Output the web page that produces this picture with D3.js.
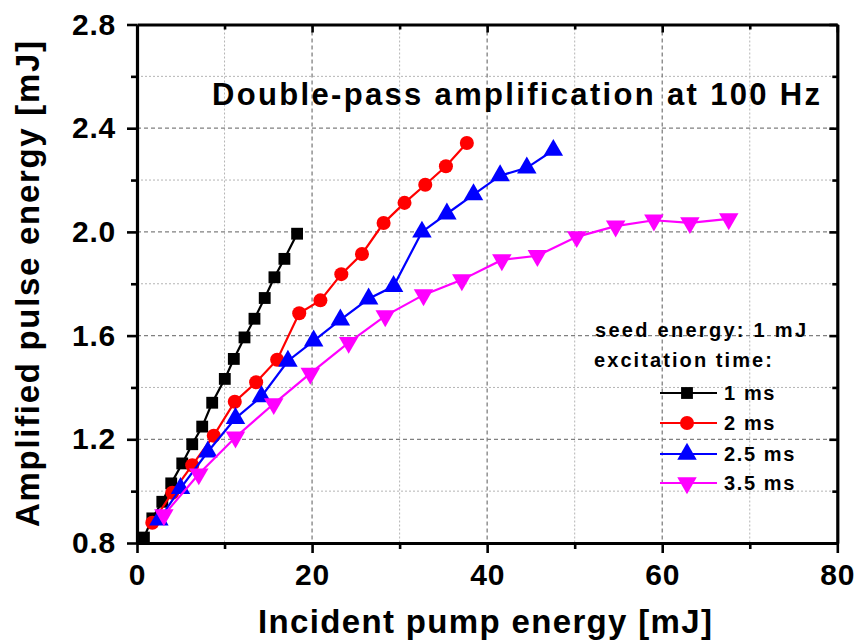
<!DOCTYPE html>
<html>
<head>
<meta charset="utf-8">
<script src="https://cdn.jsdelivr.net/npm/d3@7"></script>
<style>
  html, body { margin: 0; padding: 0; background: #fff; }
  svg { display: block; font-family: "Liberation Sans", Arial, sans-serif; font-weight: bold; }
</style>
</head>
<body>
<svg id="chart" width="857" height="641"></svg>
<script>
// ---- data ----
const x1ms = [0.79, 1.75, 2.89, 3.91, 5.17, 6.31, 7.45, 8.59, 10.03, 11.06, 12.28, 13.42, 14.59, 15.7, 16.84, 18.29];
const y1ms = [0.821, 0.895, 0.959, 1.03, 1.107, 1.181, 1.249, 1.341, 1.433, 1.51, 1.593, 1.665, 1.745, 1.825, 1.896, 1.993];

const x2ms = [1.75, 4.03, 6.31, 8.77, 11.17, 13.61, 16.01, 18.53, 20.95, 23.34, 25.7, 28.17, 30.56, 32.93, 35.29, 37.68];
const y2ms = [0.878, 0.994, 1.10, 1.214, 1.345, 1.42, 1.507, 1.686, 1.736, 1.837, 1.915, 2.034, 2.112, 2.182, 2.253, 2.343];

const x25ms = [2.5, 4.97, 8.09, 11.25, 14.22, 17.24, 20.18, 23.23, 26.46, 29.31, 32.55, 35.4, 38.44, 41.48, 44.53, 47.56];
const y25ms = [0.889, 1.011, 1.152, 1.281, 1.365, 1.502, 1.58, 1.661, 1.742, 1.79, 2.0, 2.07, 2.144, 2.217, 2.247, 2.315];

const x35ms = [3.07, 7.06, 11.25, 15.62, 19.8, 24.18, 28.36, 32.73, 37.11, 41.68, 45.74, 50.23, 54.68, 59.05, 63.16, 67.6];
const y35ms = [0.908, 1.066, 1.208, 1.337, 1.454, 1.573, 1.676, 1.757, 1.815, 1.892, 1.908, 1.981, 2.022, 2.045, 2.035, 2.05];

const seriesNames = ["1 ms", "2 ms", "2.5 ms", "3.5 ms"];
const xMajorTicks = [0, 20, 40, 60, 80];
const xMinorTicks = [10, 30, 50, 70];
const yMajorTicks = [0.8, 1.2, 1.6, 2.0, 2.4, 2.8];
const yMinorTicks = [1.0, 1.4, 1.8, 2.2, 2.6];
const xTitle = "Incident pump energy [mJ]";
const yTitle = "Amplified pulse energy [mJ]";
const chartTitle = "Double-pass amplification at 100 Hz";
const legendLine1 = "seed energy: 1 mJ";
const legendLine2 = "excitation time:";

// ---- build ----
const svg = d3.select("#chart");
const L = 137, R = 837.3, T = 24.5, B = 543;
const x = d3.scaleLinear().domain([0, 80]).range([L, R]);
const y = d3.scaleLinear().domain([0.8, 2.8]).range([B, T]);

const colors = ["#000000", "#ff0000", "#0000ff", "#ff00ff"];
const symbols = [
  {type: d3.symbolSquare, size: 140, rot: 0},
  {type: d3.symbolCircle, size: 155, rot: 0},
  {type: d3.symbolTriangle, size: 165, rot: 0},
  {type: d3.symbolTriangle, size: 165, rot: 180}
];
const data = [
  x1ms.map((v, i) => [v, y1ms[i]]),
  x2ms.map((v, i) => [v, y2ms[i]]),
  x25ms.map((v, i) => [v, y25ms[i]]),
  x35ms.map((v, i) => [v, y35ms[i]])
];

// grid
const grid = svg.append("g");
xMinorTicks.forEach(v => grid.append("line").attr("x1", x(v)).attr("x2", x(v)).attr("y1", T).attr("y2", B)
  .attr("stroke", "#b4b4b4").attr("stroke-width", 1).attr("stroke-dasharray", "2,2"));
yMinorTicks.forEach(v => grid.append("line").attr("x1", L).attr("x2", R).attr("y1", y(v)).attr("y2", y(v))
  .attr("stroke", "#b4b4b4").attr("stroke-width", 1).attr("stroke-dasharray", "2,2"));
xMajorTicks.filter(v => v > 0 && v < 80).forEach(v => grid.append("line").attr("x1", x(v)).attr("x2", x(v)).attr("y1", T).attr("y2", B)
  .attr("stroke", "#808080").attr("stroke-width", 1.3).attr("stroke-dasharray", "4,3"));
yMajorTicks.filter(v => v > 0.8 && v < 2.8).forEach(v => grid.append("line").attr("x1", L).attr("x2", R).attr("y1", y(v)).attr("y2", y(v))
  .attr("stroke", "#808080").attr("stroke-width", 1.3).attr("stroke-dasharray", "4,3"));

// axes
function styleAxis(g) {
  g.select(".domain").attr("stroke", "#000").attr("stroke-width", 3.2);
  g.selectAll(".tick line").attr("stroke", "#000").attr("stroke-width", 2.6);
}
function styleLabels(g) {
  g.selectAll("text").attr("font-size", 30).attr("font-weight", "bold").attr("fill", "#000")
    .attr("font-family", "'Liberation Sans', Arial, sans-serif").attr("letter-spacing", 0.8);
}
const fmtY = d3.format(".1f");
svg.append("g").attr("transform", `translate(0,${B})`)
  .call(d3.axisBottom(x).tickValues(xMinorTicks).tickSize(6).tickSizeOuter(0).tickFormat(""))
  .call(styleAxis).call(g => g.select(".domain").remove());
svg.append("g").attr("transform", `translate(0,${B})`)
  .call(d3.axisBottom(x).tickValues(xMajorTicks).tickSize(10).tickSizeOuter(0).tickPadding(11).tickFormat(d3.format("d")))
  .call(styleAxis).call(styleLabels);
svg.append("g").attr("transform", `translate(${L},0)`)
  .call(d3.axisLeft(y).tickValues(yMinorTicks).tickSize(6).tickSizeOuter(0).tickFormat(""))
  .call(styleAxis).call(g => g.select(".domain").remove());
svg.append("g").attr("transform", `translate(${L},0)`)
  .call(d3.axisLeft(y).tickValues(yMajorTicks).tickSize(10).tickSizeOuter(0).tickPadding(11).tickFormat(fmtY))
  .call(styleAxis).call(styleLabels);
// top / right mirrored with inward ticks
svg.append("g").attr("transform", `translate(0,${T})`)
  .call(d3.axisTop(x).tickValues(xMinorTicks).tickSize(-5).tickSizeOuter(0).tickFormat(""))
  .call(styleAxis).call(g => g.select(".domain").remove());
svg.append("g").attr("transform", `translate(0,${T})`)
  .call(d3.axisTop(x).tickValues(xMajorTicks).tickSize(-8).tickSizeOuter(0).tickFormat(""))
  .call(styleAxis);
svg.append("g").attr("transform", `translate(${R},0)`)
  .call(d3.axisRight(y).tickValues(yMinorTicks).tickSize(-5).tickSizeOuter(0).tickFormat(""))
  .call(styleAxis).call(g => g.select(".domain").remove());
svg.append("g").attr("transform", `translate(${R},0)`)
  .call(d3.axisRight(y).tickValues(yMajorTicks).tickSize(-8).tickSizeOuter(0).tickFormat(""))
  .call(styleAxis);

// series
const line = d3.line().x(d => x(d[0])).y(d => y(d[1]));
data.forEach((pts, i) => {
  const g = svg.append("g");
  g.append("path").attr("d", line(pts)).attr("fill", "none").attr("stroke", colors[i]).attr("stroke-width", 2.2);
  const sym = d3.symbol().type(symbols[i].type).size(symbols[i].size);
  g.selectAll("path.m").data(pts).join("path").attr("class", "m")
    .attr("d", sym)
    .attr("transform", d => `translate(${x(d[0])},${y(d[1])}) rotate(${symbols[i].rot})`)
    .attr("fill", colors[i]);
});

// title
svg.append("text").attr("x", 212).attr("y", 105).attr("font-size", 31)
  .attr("textLength", 608).attr("lengthAdjust", "spacing").attr("fill", "#000").text(chartTitle);

// axis titles
svg.append("text").attr("x", 258).attr("y", 633).attr("font-size", 33)
  .attr("textLength", 454).attr("lengthAdjust", "spacing").attr("fill", "#000").text(xTitle);
svg.append("text").attr("transform", "translate(39,527) rotate(-90)").attr("x", 0).attr("y", 0).attr("font-size", 33)
  .attr("textLength", 486).attr("lengthAdjust", "spacing").attr("fill", "#000").text(yTitle);

// legend
svg.append("text").attr("x", 595).attr("y", 337).attr("font-size", 20)
  .attr("textLength", 211).attr("lengthAdjust", "spacing").attr("fill", "#000").text(legendLine1);
svg.append("text").attr("x", 594).attr("y", 367).attr("font-size", 20)
  .attr("textLength", 178).attr("lengthAdjust", "spacing").attr("fill", "#000").text(legendLine2);
const legY = [393, 423, 454, 483];
seriesNames.forEach((name, i) => {
  const g = svg.append("g");
  g.append("line").attr("x1", 660).attr("x2", 717).attr("y1", legY[i]).attr("y2", legY[i])
    .attr("stroke", colors[i]).attr("stroke-width", 2.2);
  g.append("path").attr("d", d3.symbol().type(symbols[i].type).size(symbols[i].size))
    .attr("transform", `translate(687,${legY[i]}) rotate(${symbols[i].rot})`).attr("fill", colors[i]);
  g.append("text").attr("x", 724).attr("y", legY[i] + 7).attr("font-size", 20).attr("letter-spacing", 1.6)
    .attr("fill", "#000").text(name);
});
</script>
</body>
</html>
